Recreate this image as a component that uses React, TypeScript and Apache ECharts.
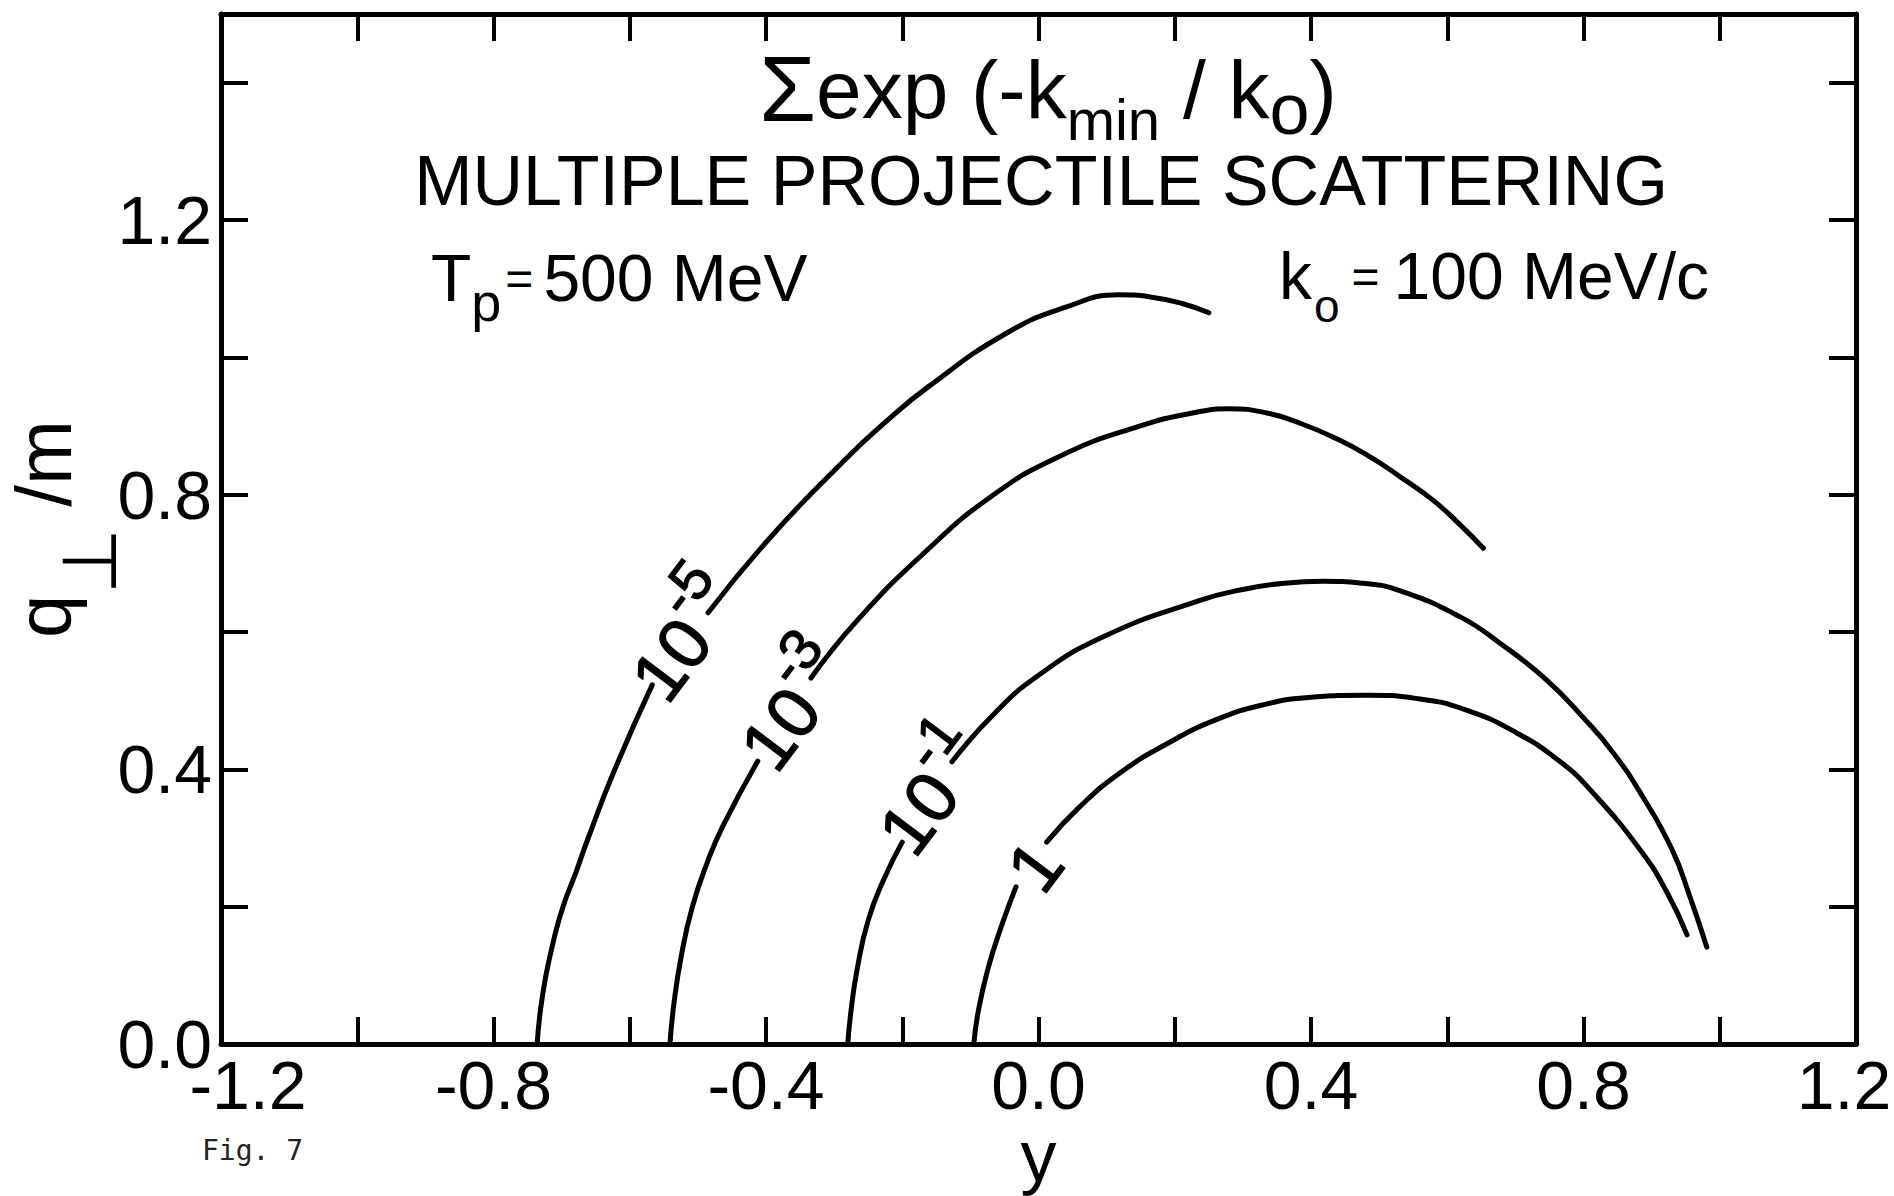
import React, { useEffect, useRef } from "react";
import * as echarts from "echarts";

// ---------- axes ----------
const X_MIN = -1.2;
const X_MAX = 1.2;
const Y_MIN = 0;
const Y_MAX = 1.5;
const TICK_STEP = 0.2;
const xLabelValues = [-1.2, -0.8, -0.4, 0, 0.4, 0.8, 1.2];
const xTickLabels = ["-1.2", "-0.8", "-0.4", "0.0", "0.4", "0.8", "1.2"];
const yLabelValues = [0, 0.4, 0.8, 1.2];
const yTickLabels = ["0.0", "0.4", "0.8", "1.2"];

// ---------- contour curves [y, q_perp/m] (each split where its label sits) ----------
const c5Lower = [[-0.736, 0], [-0.731, 0.05], [-0.723, 0.1], [-0.712, 0.15], [-0.698, 0.2], [-0.679, 0.25], [-0.661, 0.3], [-0.624, 0.395], [-0.567, 0.523]];
const c5Upper = [[-0.485, 0.628], [-0.397, 0.734], [-0.299, 0.836], [-0.221, 0.909], [-0.162, 0.957], [-0.049, 1.034], [0.04, 1.073], [0.118, 1.091], [0.164, 1.088], [0.212, 1.078], [0.25, 1.065]];
const c3Lower = [[-0.541, 0], [-0.535, 0.06], [-0.524, 0.13], [-0.508, 0.2], [-0.486, 0.265], [-0.463, 0.318], [-0.412, 0.412]];
const c3Upper = [[-0.334, 0.533], [-0.266, 0.617], [-0.168, 0.715], [-0.07, 0.797], [0.029, 0.855], [0.146, 0.899], [0.237, 0.921], [0.28, 0.925], [0.335, 0.919], [0.384, 0.904], [0.432, 0.884], [0.482, 0.858], [0.531, 0.826], [0.579, 0.792], [0.619, 0.756], [0.653, 0.722]];
const c1Lower = [[-0.28, 0], [-0.275, 0.05], [-0.266, 0.11], [-0.25, 0.18], [-0.227, 0.24], [-0.2, 0.294]];
const c1Upper = [[-0.127, 0.411], [-0.07, 0.476], [-0.004, 0.534], [0.095, 0.593], [0.237, 0.646], [0.3, 0.662], [0.36, 0.671], [0.418, 0.674], [0.475, 0.671], [0.531, 0.66], [0.619, 0.622], [0.677, 0.584], [0.746, 0.53], [0.799, 0.476], [0.843, 0.425], [0.887, 0.36], [0.93, 0.283], [0.956, 0.215], [0.981, 0.141]];
const c0Lower = [[-0.095, 0], [-0.088, 0.05], [-0.074, 0.11], [-0.055, 0.17], [-0.033, 0.229]];
const c0Upper = [[0.012, 0.294], [0.06, 0.345], [0.12, 0.395], [0.19, 0.438], [0.26, 0.472], [0.33, 0.494], [0.4, 0.505], [0.48, 0.508], [0.556, 0.503], [0.629, 0.486], [0.702, 0.453], [0.766, 0.411], [0.81, 0.37], [0.883, 0.283], [0.923, 0.22], [0.952, 0.159]];

const curveSegments = [c5Lower, c5Upper, c3Lower, c3Upper, c1Lower, c1Upper, c0Lower, c0Upper];
const curveNames = ["10^-5", "10^-5", "10^-3", "10^-3", "10^-1", "10^-1", "1", "1"];

// ---------- contour labels ----------
const labelMantissa = ["10", "10", "10", "1"];
const labelExponent = ["-5", "-3", "-1", ""];
const labelPos = [[-0.516, 0.59], [-0.356, 0.489], [-0.153, 0.366], [-0.005, 0.259]];

// ---------- texts ----------
const titleFormula = "{sig|Σ}{m|exp (-k}{sub|min}{m| / k}{sub2|o}{m|)}";
const titleMain = "MULTIPLE PROJECTILE SCATTERING";
const leftNote = "{m|T}{sub|p}{eq|=}{m|500 MeV}";
const rightNote = "{m|k}{sub|o}{eq|=}{m|100 MeV/c}";
const yName = "{a|q}{b|⊥}{a| /m}";
const xName = "y";
const figNote = "Fig. 7";

const FONT = '"Liberation Sans", Arial, sans-serif';
const INK = "#000";

function matchLabel(v: number, values: number[], labels: string[]) {
  for (let i = 0; i < values.length; i++) {
    if (Math.abs(v - values[i]) < 1e-6) return labels[i];
  }
  return "";
}

function tok(fontSize: number, lineHeight: number, padding?: number[], family = FONT) {
  const t: any = { fontSize, fontFamily: family, color: INK, fontWeight: "normal", lineHeight };
  if (padding) t.padding = padding;
  return t;
}

function buildOption() {
  const axisLine = { show: true, onZero: false, lineStyle: { color: INK, width: 5 } };
  const axisTick = { show: true, inside: true, length: 27, lineStyle: { color: INK, width: 4 } };

  const xBase = { type: "value", min: X_MIN, max: X_MAX, interval: TICK_STEP, axisLine, axisTick, splitLine: { show: false } };
  const yBase = { type: "value", min: Y_MIN, max: Y_MAX, interval: TICK_STEP, axisLine, axisTick, splitLine: { show: false } };

  const series: any[] = curveSegments.map((seg, i) => ({
    type: "line",
    name: curveNames[i],
    data: seg,
    smooth: 0.5,
    symbol: "none",
    silent: true,
    lineStyle: { color: INK, width: 5, cap: "round", join: "round" },
    emphasis: { disabled: true },
    z: 3,
  }));

  const inkBorder = { textBorderColor: INK, textBorderWidth: 1.2 };
  series.push({
    type: "scatter",
    name: "labels",
    data: labelPos.map((p) => ({ value: p })),
    symbolSize: 1,
    silent: true,
    itemStyle: { color: "rgba(0,0,0,0)" },
    emphasis: { disabled: true },
    label: {
      show: true,
      position: "inside",
      rotate: 53,
      color: INK,
      opacity: 1,
      ...inkBorder,
      fontFamily: FONT,
      fontWeight: "normal",
      formatter: (p: any) => {
        const i = p.dataIndex;
        return labelExponent[i]
          ? `{n|${labelMantissa[i]}}{s|${labelExponent[i]}}`
          : `{n|${labelMantissa[i]}}`;
      },
      rich: {
        n: { ...tok(72, 72), ...inkBorder },
        s: { ...tok(58, 72, [0, 0, 66, 0]), ...inkBorder },
      },
    },
    z: 5,
  });

  const titleBase = { padding: 0, textVerticalAlign: "middle" };

  return {
    animation: false,
    backgroundColor: "#fff",
    textStyle: { fontFamily: FONT, color: INK, fontWeight: "normal" },
    grid: { left: 221, right: 38, top: 14, bottom: 152, containLabel: false, outerBoundsMode: "none" },
    title: [
      {
        ...titleBase,
        text: titleFormula,
        left: 1048,
        top: 89,
        textAlign: "center",
        textStyle: {
          fontWeight: "normal",
          color: INK,
          rich: {
            sig: tok(92, 92),
            m: tok(82, 92),
            sub: tok(58, 92, [61, 0, 0, 0]),
            sub2: tok(72, 92, [40, 0, 0, 0]),
          },
        },
      },
      {
        ...titleBase,
        text: titleMain,
        left: 1041,
        top: 181,
        textAlign: "center",
        textStyle: { fontSize: 70, fontFamily: FONT, color: INK, fontWeight: "normal" },
      },
      {
        ...titleBase,
        text: leftNote,
        left: 431,
        top: 278,
        textAlign: "left",
        textStyle: {
          fontWeight: "normal",
          color: INK,
          rich: {
            m: tok(66, 66),
            sub: tok(54, 66, [48, 0, 0, 0]),
            eq: tok(48, 66, [0, 10, 0, 4]),
          },
        },
      },
      {
        ...titleBase,
        text: rightNote,
        left: 1709,
        top: 276,
        textAlign: "right",
        textStyle: {
          fontWeight: "normal",
          color: INK,
          rich: {
            m: tok(66, 66),
            sub: tok(46, 66, [59, 0, 0, 2]),
            eq: tok(48, 66, [0, 14, 0, 12]),
          },
        },
      },
      {
        ...titleBase,
        text: figNote,
        left: 202,
        top: 1150,
        textAlign: "left",
        textStyle: { fontSize: 28, fontFamily: '"DejaVu Sans Mono", monospace', color: "#222", fontWeight: "normal" },
      },
    ],
    xAxis: [
      {
        ...xBase,
        position: "bottom",
        name: xName,
        nameLocation: "middle",
        nameGap: 76,
        nameMoveOverlap: false,
        nameTextStyle: { fontSize: 72, fontFamily: FONT, color: INK, fontWeight: "normal" },
        axisLabel: {
          show: true,
          margin: 7,
          fontSize: 68,
          fontFamily: FONT,
          color: INK,
          showMinLabel: true,
          showMaxLabel: true,
          formatter: (v: number) => {
            const s = matchLabel(v, xLabelValues, xTickLabels);
            if (s && Math.abs(v - X_MIN) < 1e-6) return `{first|${s}}`;
            if (s && Math.abs(v - X_MAX) < 1e-6) return `{last|${s}}`;
            return s;
          },
          rich: {
            first: { ...tok(68, 68, [0, 0, 0, 54]) },
            last: { ...tok(68, 68, [0, 24, 0, 0]) },
          },
        },
      },
      { ...xBase, position: "top", axisLabel: { show: false } },
    ],
    yAxis: [
      {
        ...yBase,
        position: "left",
        name: yName,
        nameLocation: "middle",
        nameRotate: 90,
        nameGap: 138,
        nameMoveOverlap: false,
        nameTextStyle: {
          fontWeight: "normal",
          color: INK,
          rich: {
            a: tok(78, 78),
            b: tok(76, 78, [91, 0, 0, 0], '"DejaVu Sans", sans-serif'),
          },
        },
        axisLabel: {
          show: true,
          margin: 9,
          fontSize: 68,
          fontFamily: FONT,
          color: INK,
          showMinLabel: true,
          formatter: (v: number) => matchLabel(v, yLabelValues, yTickLabels),
        },
      },
      { ...yBase, position: "right", axisLabel: { show: false } },
    ],
    series,
  };
}

export default function App() {
  const ref = useRef<HTMLDivElement>(null);
  useEffect(() => {
    if (!ref.current) return;
    const chart = echarts.init(ref.current, null, { renderer: "svg" });
    chart.setOption(buildOption() as any);
    return () => {
      chart.dispose();
    };
  }, []);
  return (
    <div
      ref={ref}
      style={{ position: "fixed", left: 0, top: 0, width: 1894, height: 1196, background: "#fff" }}
    />
  );
}
